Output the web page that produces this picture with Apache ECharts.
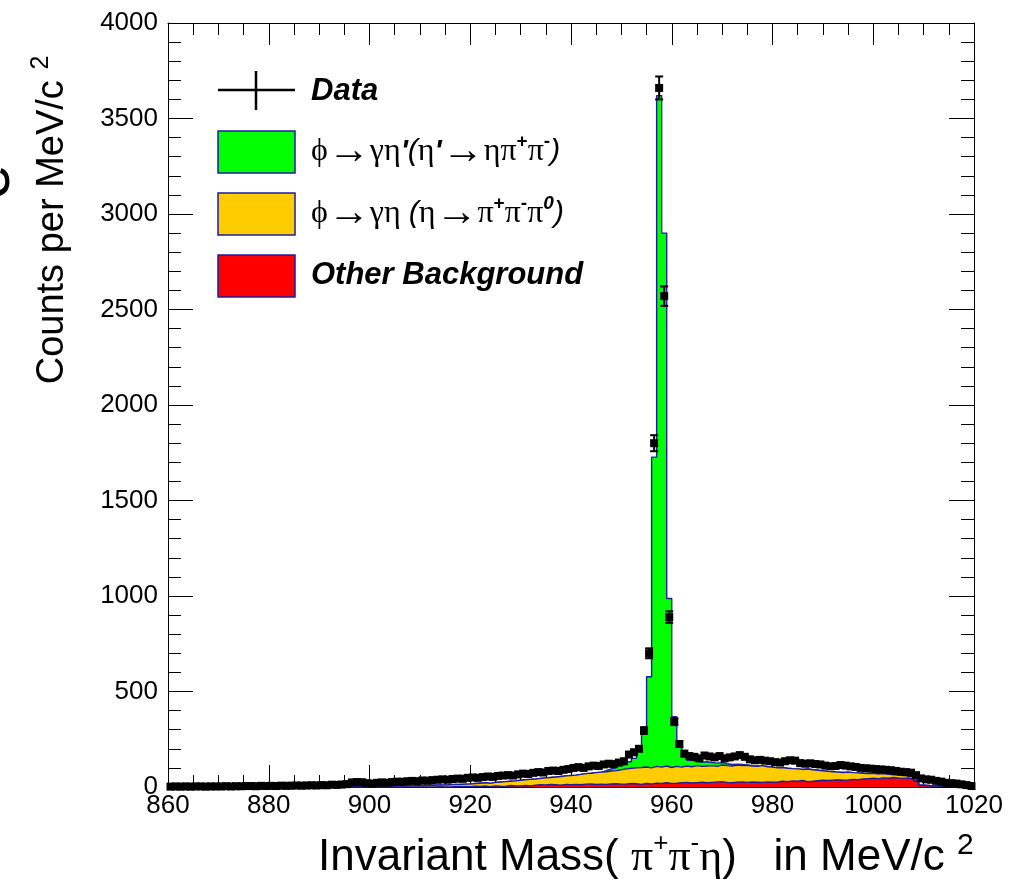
<!DOCTYPE html>
<html>
<head>
<meta charset="utf-8">
<script src="https://cdn.jsdelivr.net/npm/echarts/dist/echarts.min.js"></script>
<style>
html,body{margin:0;padding:0;background:#fff;}
#chart{width:1012px;height:885px;}
</style>
</head>
<body>
<div id="chart"></div>
<script>
// ---- binning (MeV/c^2) ----
const binLow = 860;
const binWidth = 1;

// ---- Data: counts per MeV/c^2, bins 860..1019 ----
const counts = [
  2,3,2,3,2,3,3,2,3,3,
  3,4,3,4,4,5,5,4,6,5,
  6,5,7,6,7,8,7,8,9,8,
  10,9,12,11,13,15,24,26,25,20,
  18,22,24,22,26,28,27,30,32,30,
  34,33,36,38,40,38,42,44,43,48,
  50,48,52,55,53,58,60,62,60,66,
  70,68,74,78,76,84,86,84,90,94,
  100,104,100,108,112,110,118,122,120,128,
  135,170,182,200,295,700,1800,3660,2570,890,
  342,225,175,162,158,150,165,160,155,162,
  150,155,160,167,158,145,140,142,138,135,
  130,128,135,140,138,125,122,124,120,118,
  112,108,110,115,112,108,105,100,98,96,
  94,92,90,88,84,80,78,75,62,45,
  40,38,32,28,22,20,18,14,10,5
];

// ---- Other Background (red) ----
const bgOther = [
  0,0,0,0,0,0,0,0,0,0,
  0,0,0,0,0,0,0,0,0,0,
  0,0,0,0,0,0,0,0,0,0,
  0,0,0,0,0,0,0,0,0,0,
  0,0,0,0,0,0,0,0,0,0,
  0,0,0,1,0,0,2,1,3,2,
  4,3,5,2,6,4,3,8,5,6,
  8,6,10,12,11,13,12,10,14,12,
  14,12,15,16,13,15,14,16,17,15,
  16,18,17,14,18,16,20,18,22,19,
  20,22,24,21,23,25,22,24,26,28,
  24,22,25,27,24,26,25,24,27,25,
  26,30,28,32,30,34,28,30,33,35,
  34,36,38,35,37,40,38,42,44,46,
  44,48,46,50,47,45,48,42,30,8,
  6,4,5,3,4,2,3,2,1,1
];

// ---- phi -> gamma eta (eta -> pi+ pi- pi0) (orange) ----
const bgEta = [
  0,0,0,0,0,0,0,0,0,0,
  0,0,0,0,0,0,0,0,0,0,
  0,0,0,0,0,0,1,0,1,1,
  1,1,2,1,2,2,3,2,3,3,
  2,3,4,3,5,6,5,7,6,8,
  8,10,9,10,10,12,12,12,12,14,
  14,17,17,17,18,22,25,22,27,29,
  30,34,32,33,37,37,40,45,44,48,
  48,54,55,56,62,63,66,68,69,75,
  79,80,83,88,87,84,88,86,88,83,
  88,82,86,85,89,83,88,88,82,87,
  88,88,90,85,90,84,83,88,79,79,
  74,72,70,64,65,58,66,60,55,50,
  48,44,40,41,41,35,36,30,26,26,
  24,22,20,14,15,15,10,10,5,2,
  2,2,1,1,0,1,0,0,0,0
];

// ---- phi -> gamma eta' (eta' -> eta pi+ pi-) (green) ----
const sigEtaPrime = [
  0,0,0,0,0,0,0,0,0,0,
  0,0,0,0,0,0,0,0,0,0,
  0,0,0,0,0,0,0,0,0,0,
  0,0,0,0,0,0,0,0,0,0,
  0,0,0,0,0,0,0,0,0,0,
  0,0,0,0,0,0,0,0,0,0,
  0,0,0,0,0,0,0,0,0,0,
  0,0,0,0,0,0,0,0,0,0,
  0,0,0,0,0,0,5,11,14,22,
  25,34,50,88,210,477,1619,3516,2790,885,
  260,126,45,34,23,22,22,16,17,13,
  10,8,5,6,2,2,2,0,0,0,
  0,0,0,0,0,0,0,0,0,0,
  0,0,0,0,0,0,0,0,0,0,
  0,0,0,0,0,0,0,0,0,0,
  0,0,0,0,0,0,0,0,0,0
];

// ---- statistical errors on the data points where they are visible (bins 954..961) ----
const errFirstBin = 954;
const dataErr = [17, 26, 42, 60, 51, 30, 18, 15];

// ---- axis ticks ----
const xMin = 860, xMax = 1020, xStep = 20;
const yMin = 0, yMax = 4000, yStep = 500;

// ---------------------------------------------------------------
const OUTLINE = '#1c1ca0';
const nBins = counts.length;
const cumRed = bgOther.slice();
const cumEta = bgOther.map((v, i) => v + bgEta[i]);
const cumTot = cumEta.map((v, i) => v + sigEtaPrime[i]);

function stepData(arr) {
  const out = [[binLow, 0]];
  arr.forEach((v, i) => out.push([binLow + i * binWidth, v]));
  out.push([binLow + nBins * binWidth, arr[nBins - 1]]);
  out.push([binLow + nBins * binWidth, 0]);
  return out;
}
const dataPts = counts.map((v, i) => [binLow + (i + 0.5) * binWidth, v]);
const errPts = dataErr.map((e, k) => {
  const i = errFirstBin - binLow + k;
  return [binLow + (i + 0.5) * binWidth, counts[i], e];
});

function histSeries(name, arr, color, z) {
  return {
    name: name, type: 'line', step: 'end', data: stepData(arr),
    symbol: 'none', showSymbol: false, z: z, animation: false,
    lineStyle: { color: OUTLINE, width: 1.4 },
    areaStyle: { color: color, opacity: 1 },
    emphasis: { disabled: true }
  };
}

const SANS = "'Liberation Sans', Arial, Helvetica, sans-serif";
const SERIF = "'Liberation Serif', 'DejaVu Serif', 'Times New Roman', serif";

function xAx(pos, showLabel) {
  return {
    type: 'value', min: xMin, max: xMax, interval: xStep, position: pos,
    axisLine: { show: true, onZero: false, lineStyle: { color: '#000', width: 1 } },
    axisTick: { show: true, inside: true, length: 22, lineStyle: { color: '#000', width: 1 } },
    minorTick: { show: true, splitNumber: 4, length: 12, lineStyle: { color: '#000', width: 1 } },
    axisLabel: { show: showLabel, fontSize: 26, color: '#000', fontFamily: SANS, margin: 6,
                 formatter: v => String(v) },
    splitLine: { show: false }, minorSplitLine: { show: false }
  };
}
function yAx(pos, showLabel) {
  return {
    type: 'value', min: yMin, max: yMax, interval: yStep, position: pos,
    axisLine: { show: true, onZero: false, lineStyle: { color: '#000', width: 1 } },
    axisTick: { show: true, inside: true, length: 25, lineStyle: { color: '#000', width: 1 } },
    minorTick: { show: true, splitNumber: 5, length: 13, lineStyle: { color: '#000', width: 1 } },
    axisLabel: { show: showLabel, fontSize: 26, color: '#000', fontFamily: SANS, margin: 10,
                 formatter: v => String(v) },
    splitLine: { show: false }, minorSplitLine: { show: false }
  };
}

const chart = echarts.init(document.getElementById('chart'), null, { renderer: 'canvas' });

const legendX = 218, legendW = 77, legendTextX = 311;
const legendFontB = { fontSize: 31, fontWeight: 'bold', fontStyle: 'italic', fontFamily: SANS, fill: '#000' };
const greekRich = {
  g: { fontSize: 32, fontFamily: SERIF, fill: '#000', lineHeight: 40 },
  r: { fontSize: 42, fontFamily: SERIF, fill: '#000', lineHeight: 40 },
  p: { fontSize: 30, fontFamily: SANS, fontWeight: 'bold', fontStyle: 'italic', fill: '#000', lineHeight: 40 },
  i: { fontSize: 30, fontFamily: SANS, fontStyle: 'italic', fill: '#000', lineHeight: 40 },
  s: { fontSize: 19, fontFamily: SANS, fontWeight: 'bold', fill: '#000', verticalAlign: 'top', lineHeight: 40 },
  z: { fontSize: 19, fontFamily: SANS, fontWeight: 'bold', fontStyle: 'italic', fill: '#000', verticalAlign: 'top', lineHeight: 40 }
};

const option = {
  backgroundColor: '#fff',
  animation: false,
  grid: { left: 168, top: 23, width: 806, height: 764 },
  xAxis: [xAx('bottom', true), xAx('top', false)],
  yAxis: [yAx('left', true), yAx('right', false)],
  series: [
    histSeries('etaprime', cumTot, '#00ff00', 2),
    histSeries('eta', cumEta, '#ffcc00', 3),
    histSeries('other', cumRed, '#ff0000', 4),
    {
      type: 'custom', z: 6, animation: false,
      renderItem: function (params, api) {
        const x = api.value(0), y = api.value(1), e = api.value(2);
        const t = api.coord([x, y + e]);
        const b = api.coord([x, y - e]);
        const c = 4;
        return {
          type: 'group',
          children: [
            { type: 'line', shape: { x1: t[0], y1: t[1], x2: b[0], y2: b[1] }, style: { stroke: '#000', lineWidth: 2 } },
            { type: 'line', shape: { x1: t[0] - c, y1: t[1], x2: t[0] + c, y2: t[1] }, style: { stroke: '#000', lineWidth: 2 } },
            { type: 'line', shape: { x1: b[0] - c, y1: b[1], x2: b[0] + c, y2: b[1] }, style: { stroke: '#000', lineWidth: 2 } }
          ]
        };
      },
      data: errPts
    },
    {
      type: 'scatter', data: dataPts, symbol: 'rect', symbolSize: 8, z: 7,
      itemStyle: { color: '#000', opacity: 1 }, animation: false, emphasis: { disabled: true }
    }
  ],
  graphic: [
    // stray cropped letter at the left edge
    { type: 'text', x: -9, y: 182, rotation: Math.PI / 2,
      style: { text: 'e', fontSize: 64, fontFamily: SANS, fill: '#000', align: 'center', verticalAlign: 'middle' } },
    // y-axis title
    { type: 'text', x: 53, y: 220, rotation: Math.PI / 2,
      style: {
        text: '{a|Counts per MeV/c }{s|2}', align: 'center', verticalAlign: 'middle',
        rich: {
          a: { fontSize: 38, fontFamily: SANS, fill: '#000', lineHeight: 48 },
          s: { fontSize: 25, fontFamily: SANS, fill: '#000', verticalAlign: 'top', lineHeight: 48 }
        }
      } },
    // x-axis title
    { type: 'text', x: 318, y: 858,
      style: {
        text: '{a|Invariant Mass( }{g|π}{s|+}{g|π}{s|-}{g|η}{a|)   in MeV/c }{t|2}',
        align: 'left', verticalAlign: 'middle',
        rich: {
          a: { fontSize: 44, fontFamily: SANS, fill: '#000', lineHeight: 54 },
          g: { fontSize: 44, fontFamily: SERIF, fill: '#000', lineHeight: 54 },
          s: { fontSize: 26, fontFamily: SANS, fill: '#000', verticalAlign: 'top', lineHeight: 54 },
          t: { fontSize: 30, fontFamily: SANS, fill: '#000', verticalAlign: 'top', lineHeight: 54 }
        }
      } },
    // legend: Data
    { type: 'line', shape: { x1: legendX, y1: 90, x2: legendX + legendW, y2: 90 }, style: { stroke: '#000', lineWidth: 2.5 } },
    { type: 'line', shape: { x1: 256, y1: 71, x2: 256, y2: 110 }, style: { stroke: '#000', lineWidth: 2.5 } },
    { type: 'text', x: legendTextX, y: 91, style: Object.assign({ text: 'Data', align: 'left', verticalAlign: 'middle' }, legendFontB) },
    // legend: eta'
    { type: 'rect', shape: { x: legendX, y: 131, width: legendW, height: 42 }, style: { fill: '#00ff00', stroke: OUTLINE, lineWidth: 1.5 } },
    { type: 'text', x: legendTextX, y: 152,
      style: {
        text: "{g|ϕ}{r|→}{g|γη}{p|'}{i|(}{g|η}{p|'}{r|→}{g|ηπ}{s|+}{g|π}{s|-}{i|)}",
        align: 'left', verticalAlign: 'middle', rich: greekRich
      } },
    // legend: eta
    { type: 'rect', shape: { x: legendX, y: 193, width: legendW, height: 42 }, style: { fill: '#ffcc00', stroke: OUTLINE, lineWidth: 1.5 } },
    { type: 'text', x: legendTextX, y: 214,
      style: {
        text: "{g|ϕ}{r|→}{g|γη }{i|(}{g|η}{r|→}{g|π}{s|+}{g|π}{s|-}{g|π}{z|0}{i|)}",
        align: 'left', verticalAlign: 'middle', rich: greekRich
      } },
    // legend: other background
    { type: 'rect', shape: { x: legendX, y: 255, width: legendW, height: 42 }, style: { fill: '#ff0000', stroke: OUTLINE, lineWidth: 1.5 } },
    { type: 'text', x: legendTextX, y: 275, style: Object.assign({ text: 'Other Background', align: 'left', verticalAlign: 'middle' }, legendFontB) }
  ]
};
chart.setOption(option);
</script>
</body>
</html>
